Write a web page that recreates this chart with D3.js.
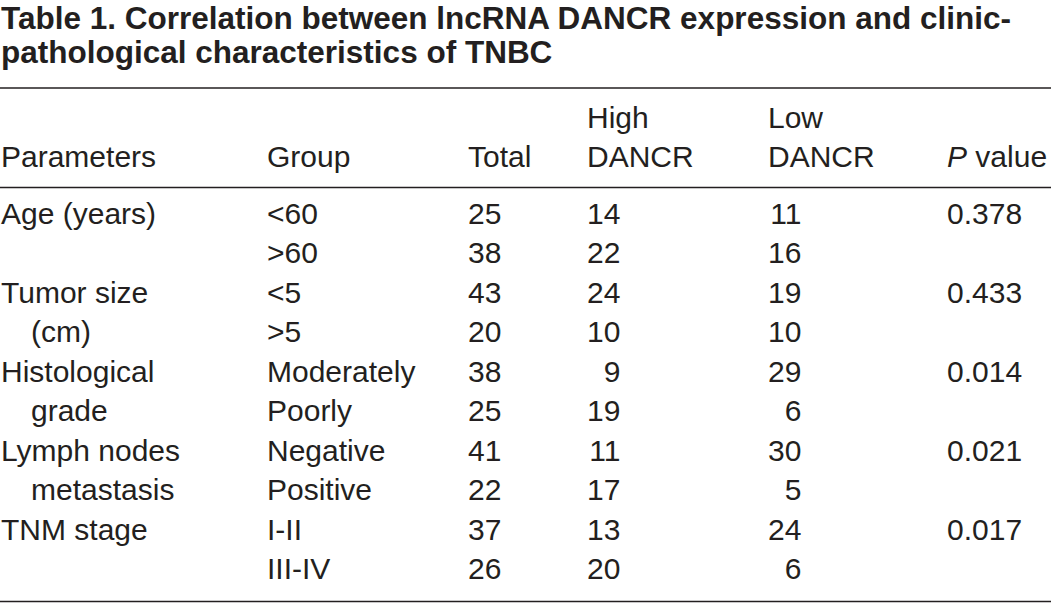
<!DOCTYPE html>
<html>
<head>
<meta charset="utf-8">
<script src="https://cdn.jsdelivr.net/npm/d3@7/dist/d3.min.js"></script>
<style>
  html, body { margin: 0; padding: 0; background: #fff; }
  svg { display: block; }
  text { font-family: "Liberation Sans", Arial, sans-serif; fill: #231f20; }
</style>
</head>
<body>
<svg id="chart" width="1051" height="604"></svg>
<script>
const titleLines = [
  "Table 1. Correlation between lncRNA DANCR expression and clinic-",
  "pathological characteristics of TNBC"
];
const headerTop = ["", "", "", "High", "Low", ""];
const headerBottom = ["Parameters", "Group", "Total", "DANCR", "DANCR", "value"];
const parameters = ["Age (years)", "", "Tumor size", "  (cm)", "Histological", "  grade", "Lymph nodes", "  metastasis", "TNM stage", ""];
const groups = ["<60", ">60", "<5", ">5", "Moderately", "Poorly", "Negative", "Positive", "I-II", "III-IV"];
const totals = [25, 38, 43, 20, 38, 25, 41, 22, 37, 26];
const highDANCR = [14, 22, 24, 10, 9, 19, 11, 17, 13, 20];
const lowDANCR = [11, 16, 19, 10, 29, 6, 30, 5, 24, 6];
const pValues = ["0.378", "", "0.433", "", "0.014", "", "0.021", "", "0.017", ""];

const svg = d3.select("#chart");
const W = 1051;
const fs = 30;

// column positions
const colX = d3.scaleOrdinal()
  .domain(["param", "group", "total", "high", "low", "p"])
  .range([1, 267, 468, 587, 768, 947]);

// row baselines
const rowY = d3.scaleLinear().domain([0, 9]).range([224, 579]);

// title
const titleY = [28.6, 62.5];
svg.selectAll("text.title").data(titleLines).join("text")
  .attr("class", "title")
  .attr("x", 1)
  .attr("y", (d, i) => titleY[i])
  .attr("font-size", 31.5)
  .attr("font-weight", "bold")
  .text(d => d);

// rules
const rules = [88, 187.5, 601.5];
svg.selectAll("line.rule").data(rules).join("line")
  .attr("class", "rule")
  .attr("x1", 0).attr("x2", W)
  .attr("y1", d => d).attr("y2", d => d)
  .attr("stroke", "#231f20")
  .attr("stroke-width", 1.4);

// header
const cols = colX.domain();
svg.selectAll("text.h1").data(headerTop).join("text")
  .attr("class", "h1")
  .attr("x", (d, i) => colX(cols[i]))
  .attr("y", 128)
  .attr("font-size", fs)
  .text(d => d);

const h2 = svg.selectAll("text.h2").data(headerBottom).join("text")
  .attr("class", "h2")
  .attr("x", (d, i) => colX(cols[i]))
  .attr("y", 167)
  .attr("font-size", fs);
h2.each(function(d, i) {
  const t = d3.select(this);
  if (i === 5) {
    t.append("tspan").attr("font-style", "italic").text("P");
    t.append("tspan").text(" " + d);
  } else {
    t.text(d);
  }
});

// body
const indent = 30;
svg.selectAll("text.param").data(parameters).join("text")
  .attr("class", "param")
  .attr("x", d => d.startsWith("  ") ? colX("param") + indent : colX("param"))
  .attr("y", (d, i) => rowY(i))
  .attr("font-size", fs)
  .text(d => d.trim());

svg.selectAll("text.group").data(groups).join("text")
  .attr("class", "group")
  .attr("x", colX("group"))
  .attr("y", (d, i) => rowY(i))
  .attr("font-size", fs)
  .text(d => d);

function numCol(cls, data, key) {
  const digitW = fs * 0.556;
  svg.selectAll("text." + cls).data(data).join("text")
    .attr("class", cls)
    .attr("x", colX(key) + 2 * digitW)
    .attr("y", (d, i) => rowY(i))
    .attr("text-anchor", "end")
    .attr("font-size", fs)
    .text(d => d);
}
numCol("total", totals, "total");
numCol("high", highDANCR, "high");
numCol("low", lowDANCR, "low");

svg.selectAll("text.pv").data(pValues).join("text")
  .attr("class", "pv")
  .attr("x", colX("p"))
  .attr("y", (d, i) => rowY(i))
  .attr("font-size", fs)
  .text(d => d);
</script>
</body>
</html>
